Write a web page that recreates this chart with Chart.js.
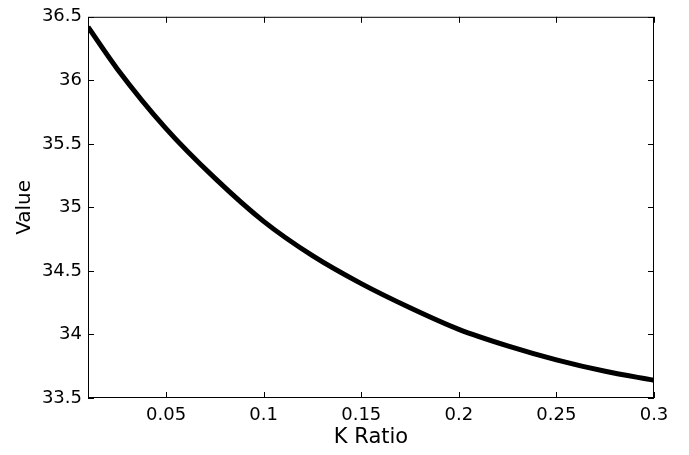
<!DOCTYPE html>
<html>
<head>
<meta charset="utf-8">
<script src="https://cdn.jsdelivr.net/npm/chart.js@4/dist/chart.umd.min.js"></script>
<style>
  html, body { margin: 0; padding: 0; background: #fff; }
  #wrap { width: 689px; height: 455px; }
</style>
</head>
<body>
<div id="wrap"><canvas id="myChart" width="689" height="455"></canvas></div>
<script>
// values
const kRatio = [0.01, 0.025, 0.05, 0.075, 0.1, 0.125, 0.15, 0.175, 0.2, 0.225, 0.25, 0.275, 0.3];
const values = [36.42, 36.09, 35.62, 35.23, 34.89, 34.62, 34.40, 34.21, 34.04, 33.91, 33.80, 33.71, 33.64];
const xTicks = [0.05, 0.1, 0.15, 0.2, 0.25, 0.3];
const yTicks = [33.5, 34, 34.5, 35, 35.5, 36, 36.5];

const FONT = "'DejaVu Sans', sans-serif";

// MATLAB style box with ticks pointing inwards on all four sides
const innerTicks = {
  id: "innerTicks",
  afterDatasetsDraw(chart) {
    const { ctx, chartArea: a, scales } = chart;
    const len = 6;
    ctx.save();
    ctx.strokeStyle = "#000";
    ctx.lineWidth = 1;
    ctx.strokeRect(a.left + 0.5, a.top + 0.5, a.right - a.left - 1, a.bottom - a.top - 1);
    ctx.beginPath();
    scales.x.ticks.forEach((t) => {
      const px = Math.round(scales.x.getPixelForValue(t.value)) + 0.5;
      ctx.moveTo(px, a.bottom); ctx.lineTo(px, a.bottom - len);
      ctx.moveTo(px, a.top); ctx.lineTo(px, a.top + len);
    });
    scales.y.ticks.forEach((t) => {
      const py = Math.round(scales.y.getPixelForValue(t.value)) + 0.5;
      ctx.moveTo(a.left, py); ctx.lineTo(a.left + len, py);
      ctx.moveTo(a.right, py); ctx.lineTo(a.right - len, py);
    });
    ctx.stroke();
    ctx.restore();
  },
};

const data = {
  datasets: [
    {
      label: "Value",
      data: kRatio.map((k, i) => ({ x: k, y: values[i] })),
      borderColor: "#000",
      backgroundColor: "#000",
      borderWidth: 5,
      pointRadius: 0,
      cubicInterpolationMode: "monotone",
      fill: false,
    },
  ],
};

const options = {
  responsive: false,
  animation: false,
  layout: { padding: { left: 0, right: 35, top: 15, bottom: 0 } },
  plugins: {
    legend: { display: false },
    tooltip: { enabled: false },
  },
  scales: {
    x: {
      type: "linear",
      min: 0.01,
      max: 0.3,
      afterBuildTicks: (s) => { s.ticks = xTicks.map((v) => ({ value: v })); },
      afterFit: (s) => { s.height = 57; },
      grid: { display: false, drawTicks: false },
      border: { display: false },
      ticks: {
        color: "#000",
        font: { family: FONT, size: 18 },
        padding: 7,
        maxRotation: 0,
        autoSkip: false,
        callback: (v) => String(v),
      },
      title: {
        display: true,
        text: "K Ratio",
        color: "#000",
        font: { family: FONT, size: 21 },
        padding: { top: 0, bottom: 5 },
      },
    },
    y: {
      type: "linear",
      min: 33.5,
      max: 36.5,
      afterBuildTicks: (s) => { s.ticks = yTicks.map((v) => ({ value: v })); },
      afterFit: (s) => { s.width = 88; },
      grid: { display: false, drawTicks: false },
      border: { display: false },
      ticks: {
        color: "#000",
        font: { family: FONT, size: 18 },
        padding: 6,
        autoSkip: false,
        callback: (v) => String(v),
      },
      title: {
        display: true,
        text: "Value",
        color: "#000",
        font: { family: FONT, size: 20 },
        padding: { top: 13, bottom: 0 },
      },
    },
  },
};

const myChart = new Chart(document.getElementById("myChart"), {
  type: "line",
  data: data,
  options: options,
  plugins: [innerTicks],
});
</script>
</body>
</html>
